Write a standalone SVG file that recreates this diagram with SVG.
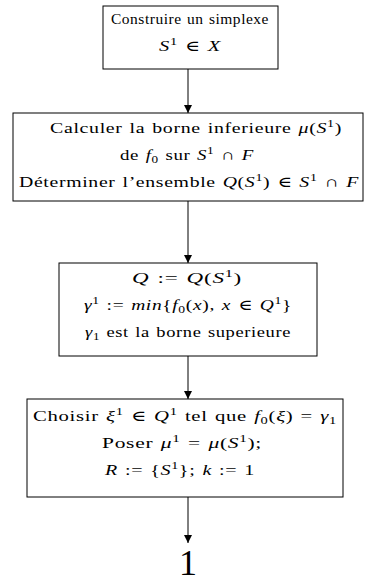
<svg xmlns="http://www.w3.org/2000/svg" width="369" height="582" viewBox="0 0 369 582">
<style>
.box{fill:#fff;stroke:#000;stroke-width:1}
.t{font-family:"Liberation Serif","DejaVu Serif",serif;font-size:15px;fill:#000;text-anchor:middle;letter-spacing:0.5px;word-spacing:1px}
.i{font-style:italic}
.s{font-size:10.5px}
.c{stroke:#000;stroke-width:1;fill:none}
</style>
<defs>
<marker id="ah" markerWidth="8" markerHeight="10" refX="8" refY="5" orient="auto" markerUnits="userSpaceOnUse">
<path d="M0,1 L8,5 L0,9 z" fill="#000"/>
</marker>
</defs>
<rect width="369" height="582" fill="#fff"/>
<g id="connectors">
<line class="c" x1="188" y1="69" x2="188" y2="113" marker-end="url(#ah)"/>
<line class="c" x1="188" y1="201" x2="188" y2="263" marker-end="url(#ah)"/>
<line class="c" x1="188" y1="356" x2="188" y2="399" marker-end="url(#ah)"/>
<line class="c" x1="188" y1="497" x2="188" y2="543" marker-end="url(#ah)"/>
</g>
<g id="n1">
<rect class="box" x="103" y="6" width="175" height="63"/>
<text class="t" x="190" y="24" textLength="158" lengthAdjust="spacingAndGlyphs">Construire un simplexe</text>
<text class="t" x="190" y="51" textLength="62" lengthAdjust="spacingAndGlyphs"><tspan class="i">S</tspan><tspan class="s" dy="-6">1</tspan><tspan dy="6"> ∈ </tspan><tspan class="i">X</tspan></text>
</g>
<g id="n2">
<rect class="box" x="13" y="113" width="350" height="88"/>
<text class="t" x="196" y="133" textLength="292" lengthAdjust="spacingAndGlyphs">Calculer la borne inferieure <tspan class="i">μ</tspan>(<tspan class="i">S</tspan><tspan class="s" dy="-6">1</tspan><tspan dy="6">)</tspan></text>
<text class="t" x="187" y="160" textLength="134" lengthAdjust="spacingAndGlyphs">de <tspan class="i">f</tspan><tspan class="s" dy="3">0</tspan><tspan dy="-3"> sur </tspan><tspan class="i">S</tspan><tspan class="s" dy="-6">1</tspan><tspan dy="6"> ∩ </tspan><tspan class="i">F</tspan></text>
<text class="t" x="189" y="187" textLength="340" lengthAdjust="spacingAndGlyphs">Déterminer l’ensemble <tspan class="i">Q</tspan>(<tspan class="i">S</tspan><tspan class="s" dy="-6">1</tspan><tspan dy="6">) ∈ </tspan><tspan class="i">S</tspan><tspan class="s" dy="-6">1</tspan><tspan dy="6"> ∩ </tspan><tspan class="i">F</tspan></text>
</g>
<g id="n3">
<rect class="box" x="59" y="263" width="258" height="93"/>
<text class="t" x="187" y="283" textLength="110" lengthAdjust="spacingAndGlyphs"><tspan class="i">Q</tspan> := <tspan class="i">Q</tspan>(<tspan class="i">S</tspan><tspan class="s" dy="-6">1</tspan><tspan dy="6">)</tspan></text>
<text class="t" x="188" y="310" textLength="208" lengthAdjust="spacingAndGlyphs"><tspan class="i">γ</tspan><tspan class="s" dy="-6">1</tspan><tspan dy="6"> := </tspan><tspan class="i">min</tspan>{<tspan class="i">f</tspan><tspan class="s" dy="3">0</tspan><tspan dy="-3">(</tspan><tspan class="i">x</tspan>), <tspan class="i">x</tspan> ∈ <tspan class="i">Q</tspan><tspan class="s" dy="-6">1</tspan><tspan dy="6">}</tspan></text>
<text class="t" x="188" y="337" textLength="206" lengthAdjust="spacingAndGlyphs"><tspan class="i">γ</tspan><tspan class="s" dy="3">1</tspan><tspan dy="-3"> est la borne superieure</tspan></text>
</g>
<g id="n4">
<rect class="box" x="27" y="399" width="316" height="98"/>
<text class="t" x="185" y="421" textLength="304" lengthAdjust="spacingAndGlyphs">Choisir <tspan class="i">ξ</tspan><tspan class="s" dy="-6">1</tspan><tspan dy="6"> ∈ </tspan><tspan class="i">Q</tspan><tspan class="s" dy="-6">1</tspan><tspan dy="6"> tel que </tspan><tspan class="i">f</tspan><tspan class="s" dy="3">0</tspan><tspan dy="-3">(</tspan><tspan class="i">ξ</tspan>) = <tspan class="i">γ</tspan><tspan class="s" dy="3">1</tspan></text>
<text class="t" x="182" y="448" textLength="160" lengthAdjust="spacingAndGlyphs">Poser <tspan class="i">μ</tspan><tspan class="s" dy="-6">1</tspan><tspan dy="6"> = </tspan><tspan class="i">μ</tspan>(<tspan class="i">S</tspan><tspan class="s" dy="-6">1</tspan><tspan dy="6">);</tspan></text>
<text class="t" x="180" y="475" textLength="150" lengthAdjust="spacingAndGlyphs"><tspan class="i">R</tspan> := {<tspan class="i">S</tspan><tspan class="s" dy="-6">1</tspan><tspan dy="6">}; </tspan><tspan class="i">k</tspan> := 1</text>
</g>
<g id="n5">
<text class="t" x="188" y="575" style="font-size:36px;letter-spacing:0">1</text>
</g>
</svg>
